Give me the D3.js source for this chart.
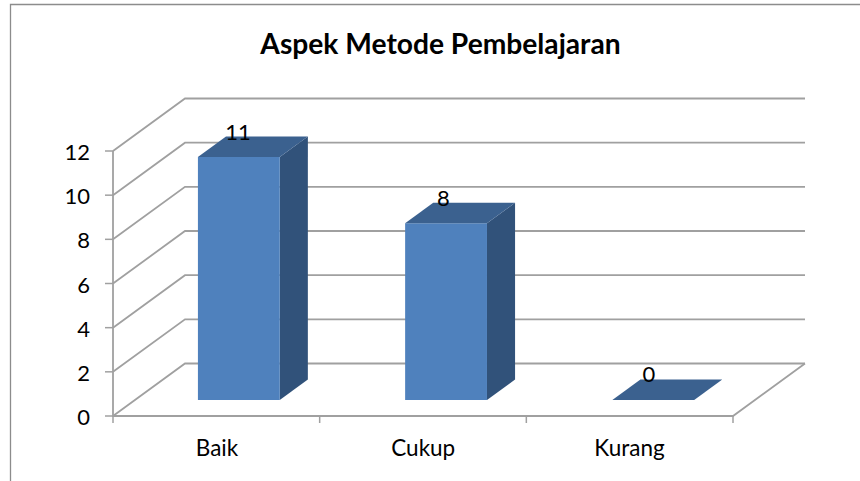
<!DOCTYPE html>
<html><head><meta charset="utf-8">
<script src="https://cdnjs.cloudflare.com/ajax/libs/d3/7.8.5/d3.min.js"></script>
<style>html,body{margin:0;padding:0;background:#fff}svg{display:block}text{font-family:Lato,"Open Sans",sans-serif;fill:#000}</style>
</head><body><script>
const chartTitle = "Aspek Metode Pembelajaran";
const categories = ["Baik", "Cukup", "Kurang"];
const values = [11, 8, 0];
const yTicks = [0, 2, 4, 6, 8, 10, 12];

const W = 860, H = 481;
const svg = d3.select("body").append("svg").attr("width", W).attr("height", H);
const y = d3.scaleLinear().domain([0, 12]).range([416, 151]);
const floorX = d3.scaleBand().domain(categories).range([113, 733]);
const x = d3.scaleBand().domain(categories).range([113.8, 734.4]).paddingInner(0.605).paddingOuter(0.3);
const catLabelX = d3.scalePoint().domain(categories).range([217, 629.5]);
const valLabelX = d3.scalePoint().domain(categories).range([238, 649]);
const depth = d3.scaleLinear().domain([0, 1]).range([0, 72]);
const rise = d3.scaleLinear().domain([0, 1]).range([0, 52.5]);
const px = (xv, d) => xv + depth(d);
const py = (v, d) => y(v) - rise(d);
const grid = "#a0a0a0";
const line = d3.line();

// frame
svg.append("path").attr("d", "M10.5,481V4.5H860").attr("fill", "none").attr("stroke", "#8c8c8c").attr("stroke-width", 1.3);

// title
svg.append("text").attr("x", 440.5).attr("y", 54).attr("text-anchor", "middle")
  .attr("font-size", 28.2).attr("font-weight", 700).text(chartTitle);

// gridlines on side and back wall
const [x0, x1] = floorX.range();
svg.selectAll(".g").data(yTicks).join("path").attr("class", "g")
  .attr("fill", "none").attr("stroke", grid).attr("stroke-width", 1.8)
  .attr("d", t => line([[x0, y(t)], [px(x0, 1), py(t, 1)], [px(x1, 1), py(t, 1)]]));

// floor edge + axes
svg.append("path").attr("fill", "none").attr("stroke", grid).attr("stroke-width", 1.8)
  .attr("d", line([[px(x1, 1), py(0, 1)], [x1, y(0)], [x0, y(0)], [x0, y(12)]]));
svg.selectAll(".yt").data(yTicks).join("line").attr("class", "yt")
  .attr("x1", x0 - 8).attr("x2", x0).attr("y1", y).attr("y2", y).attr("stroke", grid).attr("stroke-width", 1.5);
const xEdges = [0, 1, 2, 3].map(i => x0 + i * floorX.step());
svg.selectAll(".xt").data(xEdges).join("line").attr("class", "xt")
  .attr("x1", d => d).attr("x2", d => d).attr("y1", y(0)).attr("y2", y(0) + 7).attr("stroke", grid).attr("stroke-width", 1.5);

// tick labels
svg.selectAll(".yl").data(yTicks).join("text").attr("class", "yl")
  .attr("x", 90).attr("y", t => y(t) + 9).attr("text-anchor", "end").attr("font-size", 22).text(t => t);
svg.selectAll(".xl").data(categories).join("text").attr("class", "xl")
  .attr("x", c => catLabelX(c)).attr("y", 456).attr("text-anchor", "middle").attr("font-size", 22.5).text(c => c);

// bars
const dA = 0.305, dB = 0.695;
const bars = svg.selectAll(".bar").data(categories.map((c, i) => ({ c, v: values[i] }))).join("g").attr("class", "bar");
const poly = (pts) => line(pts) + "Z";
bars.append("path").attr("fill", "#31527a").attr("d", d => {
  const r = x(d.c) + x.bandwidth();
  return poly([[px(r, dA), py(0, dA)], [px(r, dB), py(0, dB)], [px(r, dB), py(d.v, dB)], [px(r, dA), py(d.v, dA)]]);
});
bars.append("path").attr("fill", "#4f81bd").attr("d", d => {
  const l = x(d.c), r = l + x.bandwidth();
  return poly([[px(l, dA), py(0, dA)], [px(r, dA), py(0, dA)], [px(r, dA), py(d.v, dA)], [px(l, dA), py(d.v, dA)]]);
});
bars.append("path").attr("fill", "#3b618f").attr("d", d => {
  const l = x(d.c), r = l + x.bandwidth();
  return poly([[px(l, dA), py(d.v, dA)], [px(r, dA), py(d.v, dA)], [px(r, dB), py(d.v, dB)], [px(l, dB), py(d.v, dB)]]);
});
bars.append("text").attr("text-anchor", "middle").attr("font-size", 22)
  .attr("x", d => valLabelX(d.c))
  .attr("y", d => py(d.v, dA) - 17.5).text(d => d.v);
</script></body></html>
